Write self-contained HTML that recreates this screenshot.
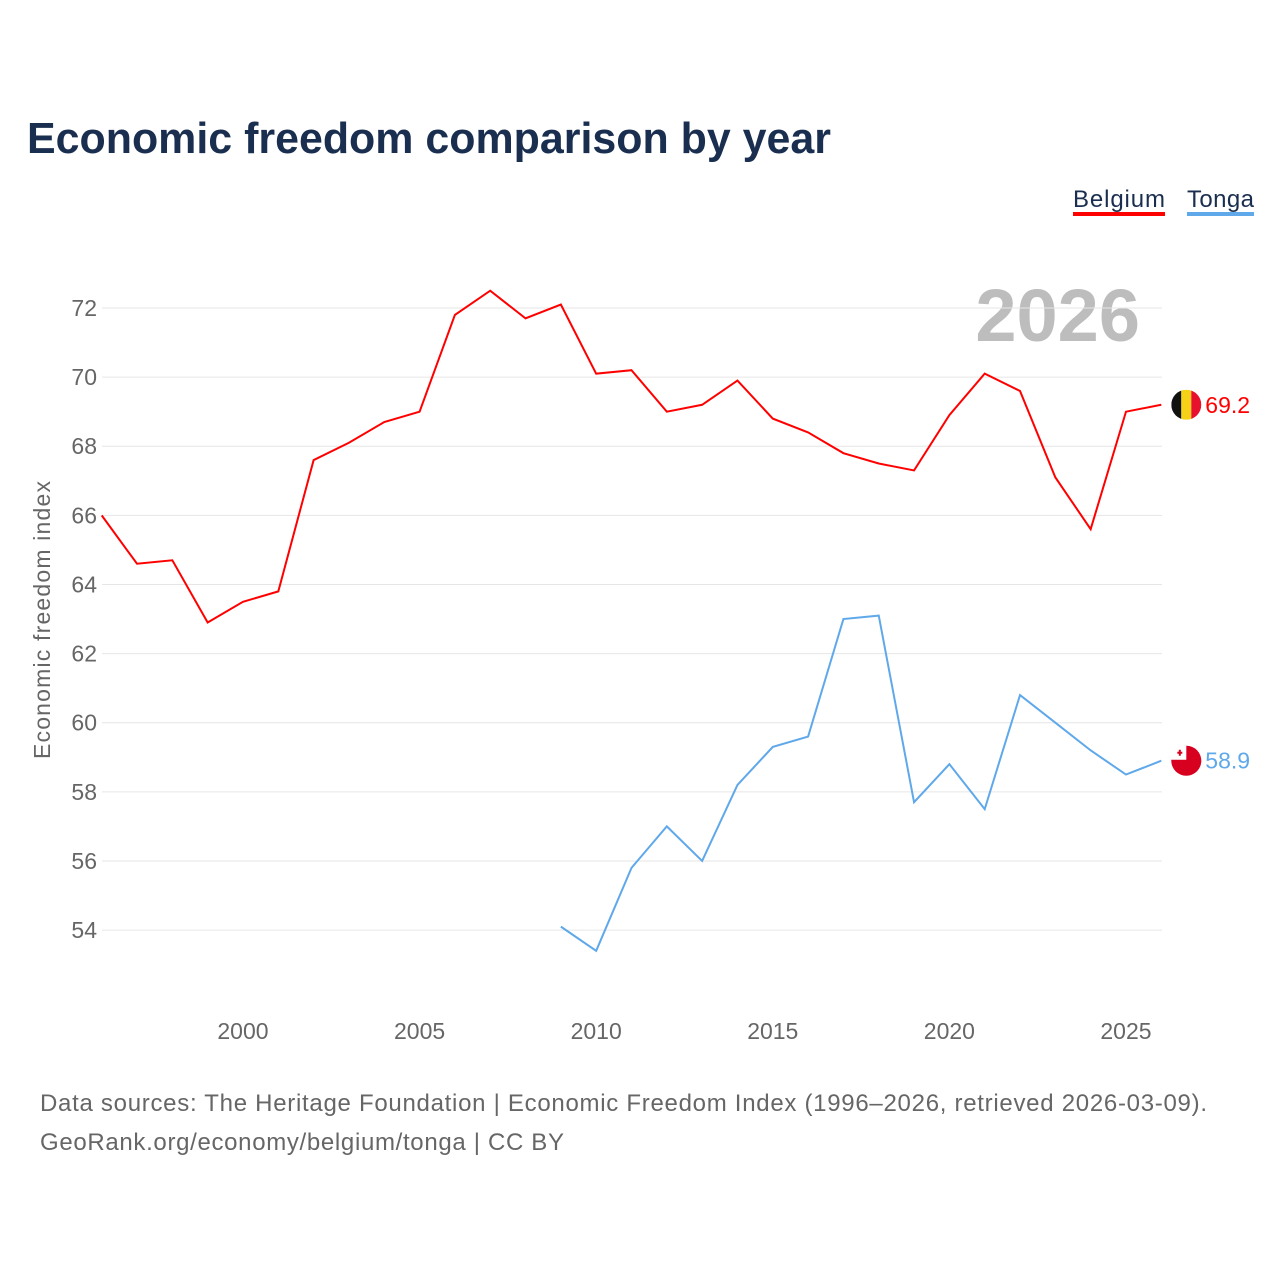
<!DOCTYPE html>
<html><head><meta charset="utf-8"><style>
body{margin:0;background:#fff;font-family:"Liberation Sans",sans-serif}
</style></head><body>
<svg width="1280" height="1280" xmlns="http://www.w3.org/2000/svg" id="chart" font-family="Liberation Sans, sans-serif">
<text x="27" y="153" font-size="44" font-weight="bold" fill="#1a2e4f" textLength="804" lengthAdjust="spacingAndGlyphs">Economic freedom comparison by year</text>
<g><text x="1073" y="207" font-size="24" fill="#1a2e4f" textLength="92">Belgium</text><rect x="1073" y="212" width="92" height="4" fill="#ff0000"/></g>
<g><text x="1187" y="207" font-size="24" fill="#1a2e4f" textLength="67">Tonga</text><rect x="1187" y="212" width="67" height="4" fill="#5fa8ea"/></g>
<text x="1140" y="341" font-size="74" font-weight="bold" fill="#bdbdbd" text-anchor="end">2026</text>
<g id="grid"></g><g id="yt"></g><g id="xt"></g>
<text transform="translate(50,620) rotate(-90)" font-size="23" fill="#666" text-anchor="middle" textLength="278">Economic freedom index</text>
<g id="series"></g>
<text x="40" y="1111" font-size="24" fill="#666" textLength="1167">Data sources: The Heritage Foundation | Economic Freedom Index (1996–2026, retrieved 2026-03-09).</text>
<text x="40" y="1150" font-size="24" fill="#666" textLength="524">GeoRank.org/economy/belgium/tonga | CC BY</text>
</svg>
<script>
const yTicks=[54,56,58,60,62,64,66,68,70,72];
const xTicks=[2000,2005,2010,2015,2020,2025];
const belgiumYears=[1996,1997,1998,1999,2000,2001,2002,2003,2004,2005,2006,2007,2008,2009,2010,2011,2012,2013,2014,2015,2016,2017,2018,2019,2020,2021,2022,2023,2024,2025,2026];
const belgiumValues=[66.0,64.6,64.7,62.9,63.5,63.8,67.6,68.1,68.7,69.0,71.8,72.5,71.7,72.1,70.1,70.2,69.0,69.2,69.9,68.8,68.4,67.8,67.5,67.3,68.9,70.1,69.6,67.1,65.6,69.0,69.2];
const tongaYears=[2009,2010,2011,2012,2013,2014,2015,2016,2017,2018,2019,2020,2021,2022,2023,2024,2025,2026];
const tongaValues=[54.1,53.4,55.8,57.0,56.0,58.2,59.3,59.6,63.0,63.1,57.7,58.8,57.5,60.8,60.0,59.2,58.5,58.9];
const NS="http://www.w3.org/2000/svg";
const X=v=>101.7+(v-1996)*35.32;
const Y=v=>308+(72-v)*34.56;
function mk(t,a,p){const e=document.createElementNS(NS,t);for(const k in a)e.setAttribute(k,a[k]);p.appendChild(e);return e;}
const grid=document.getElementById('grid'),yt=document.getElementById('yt'),xt=document.getElementById('xt'),ser=document.getElementById('series');
yTicks.forEach(v=>{
 const l=mk('line',{x1:102,x2:1162,y1:Y(v),y2:Y(v),stroke:'#e6e6e6','stroke-width':1},grid);
 
 
 const t=mk('text',{x:97,y:Y(v)+8,'font-size':23,fill:'#666','text-anchor':'end'},yt);t.textContent=v;
 
 
});
xTicks.forEach(v=>{
 const t=mk('text',{x:X(v),y:1039,'font-size':23,fill:'#666','text-anchor':'middle'},xt);t.textContent=v;
 
 
});
function line(ys,vs,c,name){
 const p=mk('polyline',{points:ys.map((y,i)=>X(y)+','+Y(vs[i])).join(' '),fill:'none',stroke:c,'stroke-width':2},ser);
 
 
 const lx=X(ys[ys.length-1]),lv=vs[vs.length-1];
 const t=mk('text',{x:lx+44,y:Y(lv)+8,'font-size':23,fill:c},ser);t.textContent=lv.toFixed(1);
 
 
 return [lx+25,Y(lv)];
}
const [bx,by]=line(belgiumYears,belgiumValues,'#ff0000','belgium');
const [tx,ty]=line(tongaYears,tongaValues,'#5fa8ea','tonga');
const bf=mk('g',{},ser);


const cp=mk('clipPath',{id:'cb'},bf);
mk('circle',{cx:bx,cy:by,r:15},cp);
const bg=mk('g',{'clip-path':'url(#cb)'},bf);
mk('rect',{x:bx-15,y:by-15,width:10,height:30,fill:'#111'},bg);
mk('rect',{x:bx-5,y:by-15,width:10,height:30,fill:'#f7d117'},bg);
mk('rect',{x:bx+5,y:by-15,width:10,height:30,fill:'#e8112d'},bg);
const tf=mk('g',{},ser);


mk('circle',{cx:tx,cy:ty,r:15,fill:'#d7001f'},tf);
mk('path',{d:`M${tx-15},${ty-8} A15 15 0 0 1 ${tx},${ty-15} L${tx},${ty-1} L${tx-15},${ty-1}Z`,fill:'#fff'},tf);
mk('rect',{x:tx-9,y:ty-9,width:5,height:2,fill:'#d7001f'},tf);
mk('rect',{x:tx-7.5,y:ty-11,width:2,height:6,fill:'#d7001f'},tf);
</script>
</body></html>
